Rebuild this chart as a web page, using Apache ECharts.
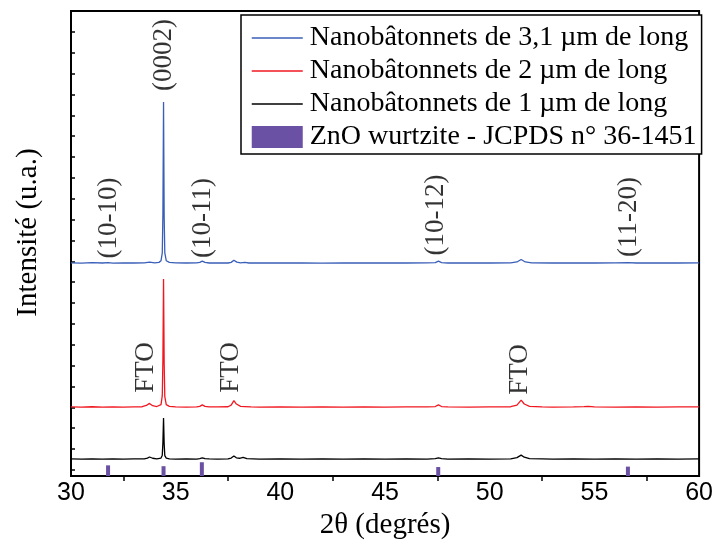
<!DOCTYPE html>
<html>
<head>
<meta charset="utf-8">
<script src="https://cdn.jsdelivr.net/npm/echarts@6/dist/echarts.min.js"></script>
<style>html,body{margin:0;padding:0;background:#fff}#c{width:716px;height:550px}</style>
</head>
<body>
<div id="c"></div>
<script>
// ---- data (2θ in degrees, intensity in arbitrary units, traces offset vertically) ----
const seriesNames = ['Nanobâtonnets de 3,1 µm de long', 'Nanobâtonnets de 2 µm de long', 'Nanobâtonnets de 1 µm de long', 'ZnO wurtzite - JCPDS n° 36-1451'];
const seriesColors = ['#3a5fb8', '#f01820', '#000000', '#6b51a3'];

const trace31um = [[30,10.22],[30.5,10.2],[31,10.23],[31.5,10.21],[31.77,10.23],[32,10.2],[32.5,10.22],[33,10.21],[33.5,10.22],[33.75,10.25],[34,10.22],[34.2,10.24],[34.3,10.32],[34.36,10.7],[34.39,12.6],[34.42,17.93],[34.45,12.4],[34.48,10.7],[34.55,10.32],[34.7,10.24],[35,10.22],[35.5,10.21],[36,10.22],[36.15,10.24],[36.27,10.3],[36.4,10.24],[36.6,10.21],[37,10.22],[37.5,10.21],[37.65,10.24],[37.78,10.34],[37.92,10.25],[38.1,10.22],[38.3,10.24],[38.5,10.21],[39,10.22],[40,10.21],[41,10.22],[42,10.2],[43,10.22],[44,10.21],[45,10.22],[46,10.21],[47,10.22],[47.4,10.23],[47.55,10.3],[47.7,10.23],[48,10.21],[49,10.22],[50,10.21],[51,10.22],[51.3,10.26],[51.5,10.38],[51.7,10.26],[52,10.22],[53,10.21],[54,10.22],[55,10.21],[56,10.22],[56.6,10.23],[57,10.21],[58,10.22],[59,10.21],[60,10.22]];

const trace2um = [[30,3.31],[30.5,3.3],[31,3.32],[31.5,3.3],[32,3.31],[32.5,3.3],[33,3.31],[33.4,3.32],[33.6,3.38],[33.75,3.48],[33.9,3.37],[34.1,3.33],[34.3,3.42],[34.36,3.85],[34.39,5.6],[34.42,9.44],[34.45,5.4],[34.48,3.8],[34.55,3.42],[34.7,3.34],[35,3.31],[35.5,3.3],[36,3.31],[36.15,3.34],[36.27,3.41],[36.4,3.34],[36.6,3.31],[37,3.31],[37.5,3.32],[37.65,3.4],[37.78,3.61],[37.9,3.45],[38.1,3.34],[38.3,3.33],[38.6,3.31],[39,3.3],[40,3.31],[41,3.3],[42,3.31],[43,3.3],[44,3.31],[45,3.3],[46,3.31],[47,3.31],[47.4,3.33],[47.55,3.41],[47.7,3.33],[48,3.31],[49,3.3],[50,3.31],[51,3.32],[51.3,3.4],[51.5,3.64],[51.65,3.45],[51.9,3.34],[52.5,3.31],[53,3.3],[54,3.31],[54.5,3.33],[54.7,3.34],[55,3.31],[56,3.3],[57,3.31],[58,3.3],[59,3.31],[60,3.31]];

const trace1um = [[30,0.82],[30.5,0.81],[31,0.82],[31.5,0.81],[32,0.82],[32.5,0.81],[33,0.82],[33.5,0.82],[33.65,0.86],[33.75,0.91],[33.9,0.85],[34.1,0.82],[34.3,0.86],[34.36,1.0],[34.39,1.6],[34.42,2.78],[34.45,1.55],[34.48,0.98],[34.55,0.86],[34.7,0.82],[35,0.81],[35.5,0.82],[36,0.81],[36.15,0.83],[36.27,0.87],[36.4,0.83],[36.6,0.82],[37,0.81],[37.5,0.82],[37.65,0.86],[37.78,0.96],[37.9,0.87],[38.05,0.85],[38.22,0.89],[38.4,0.83],[38.7,0.82],[39,0.81],[40,0.82],[41,0.81],[42,0.82],[43,0.81],[44,0.82],[45,0.81],[46,0.82],[47,0.81],[47.4,0.83],[47.55,0.87],[47.7,0.83],[48,0.81],[49,0.82],[50,0.81],[51,0.82],[51.3,0.88],[51.5,1.0],[51.65,0.9],[51.9,0.83],[52.5,0.82],[53,0.81],[54,0.82],[55,0.81],[56,0.82],[57,0.81],[58,0.82],[59,0.81],[60,0.82]];

// JCPDS 36-1451 reference lines
const jcpdsPos = [31.77, 34.42, 36.25, 47.54, 56.60];
const jcpdsHeight = [0.51, 0.47, 0.66, 0.43, 0.45];

// peak annotations
const annText = ['(0002)', '(10-10)', '(10-11)', '(10-12)', '(11-20)', 'FTO', 'FTO', 'FTO'];
const annX    = [34.46, 31.8, 36.29, 47.44, 56.65, 33.56, 37.66, 51.45];
const annY    = [20.18, 12.37, 12.37, 12.51, 12.42, 5.2, 5.2, 5.1];

// axis ticks
const xMin = 30, xMax = 60, xStep = 5;
const yMin = 0, yMax = 22.29;
const yTickValues = [];
for (let k = 0; k <= 21; k++) yTickValues.push(+(0.29 + k).toFixed(2));

const serif = 'Liberation Serif';
const sans = 'Liberation Sans';

const hiddenSymbol = {color: 'rgba(0,0,0,0)', borderColor: 'rgba(0,0,0,0)', borderWidth: 0, opacity: 0};

const chart = echarts.init(document.getElementById('c'), null, {renderer: 'canvas'});
chart.setOption({
  animation: false,
  backgroundColor: '#fff',
  grid: {left: 71, right: 13, top: 11, bottom: 74, show: true, borderColor: '#000', borderWidth: 2, backgroundColor: 'transparent'},
  legend: {
    orient: 'vertical', left: 241, top: 15,
    padding: [9, 5, 3, 10],
    borderColor: '#000', borderWidth: 1.5,
    backgroundColor: '#fff',
    itemWidth: 51, itemHeight: 22, itemGap: 5,
    selectedMode: false,
    textStyle: {fontFamily: serif, fontSize: 28, color: '#000', lineHeight: 28, padding: [0, 0, 0, 2]},
    data: [
      {name: seriesNames[0], itemStyle: hiddenSymbol, lineStyle: {color: seriesColors[0], width: 1.5}},
      {name: seriesNames[1], itemStyle: hiddenSymbol, lineStyle: {color: seriesColors[1], width: 1.5}},
      {name: seriesNames[2], itemStyle: hiddenSymbol, lineStyle: {color: seriesColors[2], width: 1.5}},
      {name: seriesNames[3], icon: 'rect'}
    ]
  },
  xAxis: {
    type: 'value', min: xMin, max: xMax, interval: xStep,
    name: '2θ (degrés)', nameLocation: 'middle', nameGap: 34,
    nameTextStyle: {fontFamily: serif, fontSize: 29, color: '#000'},
    axisLine: {show: true, onZero: false, lineStyle: {color: '#000', width: 2}},
    axisTick: {show: false},
    minorTick: {show: true, splitNumber: 2, length: 5, lineStyle: {color: '#000', width: 1.5}},
    axisLabel: {fontFamily: sans, fontSize: 25, color: '#000', margin: 5},
    splitLine: {show: false}
  },
  yAxis: {
    type: 'value', min: yMin, max: yMax,
    name: 'Intensité (u.a.)', nameLocation: 'middle', nameGap: 28,
    nameTextStyle: {fontFamily: serif, fontSize: 29, color: '#000', padding: [0, 0, 0, 22]},
    axisLine: {show: true, onZero: false, lineStyle: {color: '#000', width: 2}},
    axisTick: {show: true, inside: true, length: 4, customValues: yTickValues, lineStyle: {color: '#000', width: 1.5}},
    axisLabel: {show: false},
    splitLine: {show: false}
  },
  series: [
    {name: seriesNames[0], type: 'line', data: trace31um, symbol: 'none', lineStyle: {color: seriesColors[0], width: 1.3}, itemStyle: {color: seriesColors[0]}, z: 3},
    {name: seriesNames[1], type: 'line', data: trace2um, symbol: 'none', lineStyle: {color: seriesColors[1], width: 1.3}, itemStyle: {color: seriesColors[1]}, z: 3},
    {name: seriesNames[2], type: 'line', data: trace1um, symbol: 'none', lineStyle: {color: seriesColors[2], width: 1.3}, itemStyle: {color: seriesColors[2]}, z: 3},
    {name: seriesNames[3], type: 'bar', barWidth: 4, data: jcpdsPos.map((p, i) => [p, jcpdsHeight[i]]), itemStyle: {color: seriesColors[3]}, z: 2},
    {
      name: 'annotations', type: 'scatter', symbolSize: 1, itemStyle: {color: 'rgba(0,0,0,0)'},
      data: annText.map((t, i) => ({value: [annX[i], annY[i]], name: t})),
      label: {show: true, position: 'inside', rotate: 90, formatter: p => p.name,
        fontFamily: serif, fontSize: 27, color: '#000'},
      silent: true, z: 4
    }
  ]
});
</script>
</body>
</html>
